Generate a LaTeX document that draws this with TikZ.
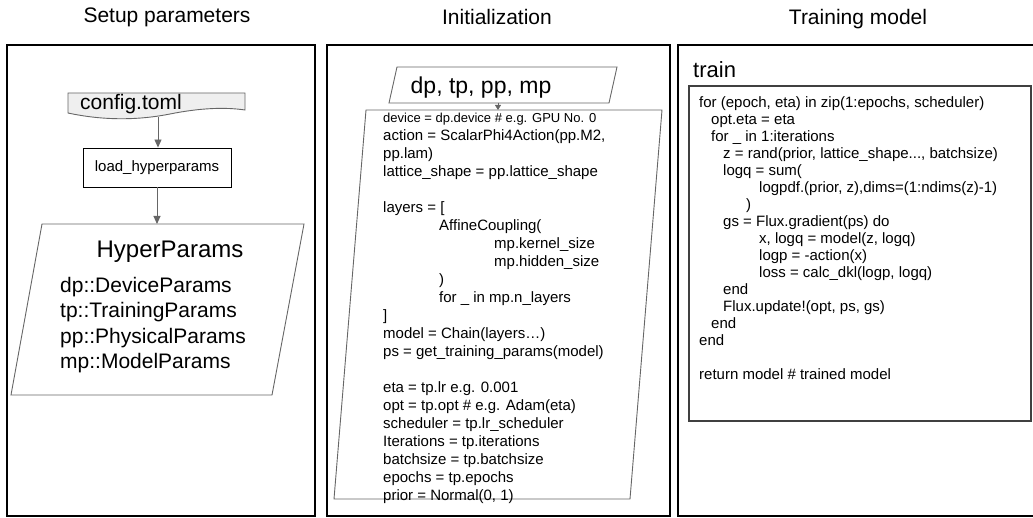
\documentclass[tikz,border=0pt]{standalone}
\usepackage{fontspec}
\setmainfont{Liberation Sans}
\usepackage{xcolor}
\usetikzlibrary{arrows.meta, positioning}
\definecolor{linegray}{HTML}{666666}
\definecolor{docfill}{HTML}{EFEFEF}

\begin{document}
\begin{tikzpicture}[x=1pt, y=-1pt,
    panel/.style={draw=black, line width=1.2pt},
    titletext/.style={font=\fontsize{21}{25}\selectfont},
    docshape/.style={draw=linegray, fill=docfill, line width=0.9pt},
    process/.style={rectangle, draw=black, line width=0.9pt, minimum width=148pt, minimum height=39pt, font=\fontsize{15}{18}\selectfont},
    io/.style={draw=linegray, line width=0.9pt},
    codebox/.style={rectangle, draw=black!75, line width=1.4pt},
    codetext/.style={anchor=north west, inner sep=0pt, align=left},
    arrow/.style={-{Triangle[width=7pt,length=8pt]}, draw=linegray, fill=linegray, line width=0.9pt}
]
    \useasboundingbox (0,0) rectangle (1033,518);

    % Panels and titles
    \draw[panel] (7,45) rectangle (315,516);
    \draw[panel] (327,45) rectangle (670,516);
    \draw[panel] (678,45) rectangle (1045,516);
    \node[titletext] (setuptitle) at (167,17) {Setup parameters};
    \node[titletext] (inittitle) at (497,17) {Initialization};
    \node[titletext] (traintitle) at (858,19) {Training model};

    % Setup parameters
    \draw[docshape] (68,93) -- (245,93) -- (245,110) .. controls (225,107) and (200,108) .. (170,114)
        .. controls (140,120) and (105,121) .. (68,113) -- cycle;
    \node[anchor=base west, inner sep=0pt, font=\fontsize{21}{25}\selectfont] (config) at (80,110) {config.toml};
    \coordinate (configout) at (158,117);
    \node[process] (load) at (157,167.5) {load\_hyperparams};
    \draw[io] (11,395) -- (42,224) -- (304,224) -- (272,395) -- cycle;
    \coordinate (hyper) at (157,224);
    \node[anchor=base, inner sep=0pt, font=\fontsize{24}{28}\selectfont] (hypertitle) at (170,258) {HyperParams};
    \node[codetext, font=\fontsize{21}{25.3}\selectfont] (hyperlist) at (60,277)
        {dp::DeviceParams\\tp::TrainingParams\\pp::PhysicalParams\\mp::ModelParams};
    \draw[arrow] (configout) -- (configout |- load.north);
    \draw[arrow] (load.south) -- (hyper);

    % Initialization
    \draw[io] (389,103) -- (397,67) -- (617,67) -- (609,103) -- cycle;
    \node[anchor=base, inner sep=0pt, font=\fontsize{23}{27}\selectfont] (dptext) at (481,94) {dp, tp, pp, mp};
    \draw[io] (334,499) -- (366,110) -- (662,110) -- (630,499) -- cycle;
    \coordinate (dpout) at (498,103);
    \coordinate (initin) at (498,110);
    \draw[arrow, -{Triangle[width=6pt,length=5pt]}] (dpout) -- (initin);
    \node[codetext, font=\fontsize{15}{18}\selectfont] (initcode) at (383,113)
        {{\fontsize{13}{18}\selectfont device = dp.device \# e.g. GPU No. 0}\\
        action = ScalarPhi4Action(pp.M2,\\
        pp.lam)\\
        lattice\_shape = pp.lattice\_shape\\[18pt]
        layers = [\\
        \hspace*{56pt}AffineCoupling(\\
        \hspace*{111pt}mp.kernel\_size\\
        \hspace*{111pt}mp.hidden\_size\\
        \hspace*{56pt})\\
        \hspace*{56pt}for \_ in mp.n\_layers\\
        ]\\
        model = Chain(layers…)\\
        ps = get\_training\_params(model)\\[18pt]
        eta = tp.lr e.g. 0.001\\
        opt = tp.opt \# e.g. Adam(eta)\\
        scheduler = tp.lr\_scheduler\\
        Iterations = tp.iterations\\
        batchsize = tp.batchsize\\
        epochs = tp.epochs\\
        prior = Normal(0, 1)};

    % Training model
    \node[anchor=base west, inner sep=0pt, font=\fontsize{22}{26}\selectfont] (trainlabel) at (693,78) {train};
    \node[codebox, minimum width=342pt, minimum height=335pt] (trainbox) at (860,253.5) {};
    \node[codetext, font=\fontsize{15}{17}\selectfont] (traincode) at (699,96)
        {for (epoch, eta) in zip(1:epochs, scheduler)\\
        \hspace*{12pt}opt.eta = eta\\
        \hspace*{12pt}for \_ in 1:iterations\\
        \hspace*{24pt}z = rand(prior, lattice\_shape..., batchsize)\\
        \hspace*{24pt}logq = sum(\\
        \hspace*{60pt}logpdf.(prior, z),dims=(1:ndims(z)-1)\\
        \hspace*{47pt})\\
        \hspace*{24pt}gs = Flux.gradient(ps) do\\
        \hspace*{60pt}x, logq = model(z, logq)\\
        \hspace*{60pt}logp = -action(x)\\
        \hspace*{60pt}loss = calc\_dkl(logp, logq)\\
        \hspace*{24pt}end\\
        \hspace*{24pt}Flux.update!(opt, ps, gs)\\
        \hspace*{12pt}end\\
        end\\[17pt]
        return model \# trained model};
\end{tikzpicture}
\end{document}
